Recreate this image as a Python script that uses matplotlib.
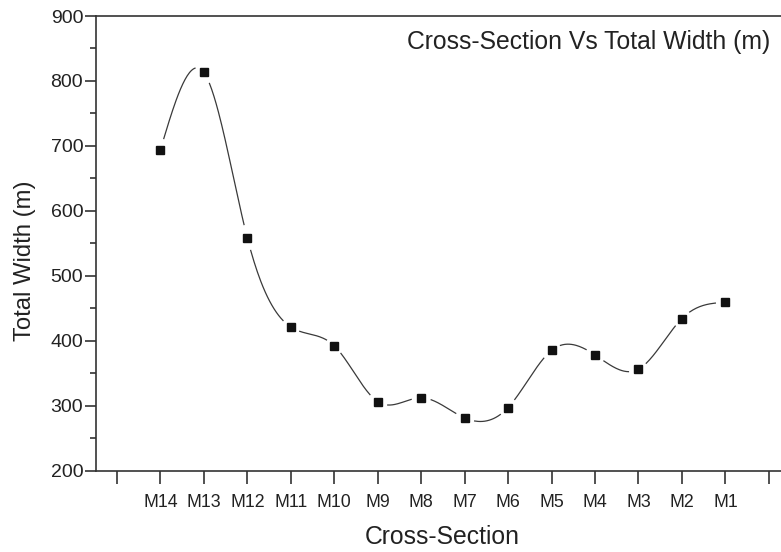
import numpy as np
import matplotlib
matplotlib.use("Agg")
import matplotlib.pyplot as plt
from matplotlib.ticker import MultipleLocator

plt.rcParams['font.family'] = ['Liberation Sans', 'DejaVu Sans']

categories = ["M14", "M13", "M12", "M11", "M10", "M9", "M8", "M7", "M6",
              "M5", "M4", "M3", "M2", "M1"]
total_width = [694, 813, 558, 421, 392, 306, 312, 281, 297, 385, 378, 356, 434, 459]
tick_labels = [""] + categories + [""]
title_text = "Cross-Section Vs Total Width (m)"
x_label = "Cross-Section"
y_label = "Total Width (m)"


def natural_cubic_spline(x, y, n=40):
    x = np.asarray(x, float)
    y = np.asarray(y, float)
    m = len(x)
    h = np.diff(x)
    A = np.zeros((m, m))
    b = np.zeros(m)
    A[0, 0] = 1
    A[-1, -1] = 1
    for i in range(1, m - 1):
        A[i, i - 1] = h[i - 1]
        A[i, i] = 2 * (h[i - 1] + h[i])
        A[i, i + 1] = h[i]
        b[i] = 6 * ((y[i + 1] - y[i]) / h[i] - (y[i] - y[i - 1]) / h[i - 1])
    M = np.linalg.solve(A, b)
    xs, ys = [], []
    for i in range(m - 1):
        t = np.linspace(x[i], x[i + 1], n)
        a = x[i + 1] - t
        c = t - x[i]
        s = (M[i] * a ** 3 + M[i + 1] * c ** 3) / (6 * h[i]) \
            + (y[i] / h[i] - M[i] * h[i] / 6) * a \
            + (y[i + 1] / h[i] - M[i + 1] * h[i] / 6) * c
        xs.append(t)
        ys.append(s)
    return np.concatenate(xs), np.concatenate(ys)


W, H = 781, 552
fig = plt.figure(figsize=(W / 100, H / 100), dpi=100)
ax = fig.add_axes([96 / W, (H - 470.5) / H, (W - 96) / W, 454.5 / H])

xpos = np.arange(1, len(categories) + 1)
sx, sy = natural_cubic_spline(xpos, total_width)

ax.set_xlim(-0.483, 15.28)
ax.set_ylim(200, 900)

# curve with gaps near the symbols (Origin style)
fig.canvas.draw()
pts = ax.transData.transform(np.column_stack([sx, sy]))
mpts = ax.transData.transform(np.column_stack([xpos, total_width]))
mask = np.zeros(len(sx), bool)
for p in mpts:
    mask |= np.hypot(pts[:, 0] - p[0], pts[:, 1] - p[1]) < 9.5
sy_g = np.where(mask, np.nan, sy)
ax.plot(sx, sy_g, color='#3a3a3a', lw=0.9, zorder=2)
ax.plot(xpos, total_width, linestyle='none', marker='s', markersize=5.2,
        color='#111111', zorder=3)

ax.set_xticks(np.arange(0, 16))
ax.set_xticklabels(tick_labels)
ax.yaxis.set_major_locator(MultipleLocator(100))
ax.yaxis.set_minor_locator(MultipleLocator(50))

spine_c = '#333333'
for s in ['left', 'bottom', 'top']:
    ax.spines[s].set_color(spine_c)
    ax.spines[s].set_linewidth(1.2)
ax.spines['right'].set_visible(False)

ax.tick_params(axis='x', which='major', direction='out', length=9.5, width=1.2,
               color=spine_c, pad=7.5, labelsize=12.8, labelcolor='#222222')
ax.tick_params(axis='y', which='major', direction='out', length=7.7, width=1.2,
               color=spine_c, pad=1.5, labelsize=14, labelcolor='#222222')
ax.tick_params(axis='y', which='minor', direction='out', length=4, width=1.2,
               color=spine_c)
ax.tick_params(top=False, right=False, which='both')

ax.text((770 - 96) / (W - 96), (470.5 - 42) / 454.5, title_text,
        transform=ax.transAxes, ha='right', va='center', fontsize=17.8,
        color='#222222')
fig.text(442.5 / W, (H - 537) / H, x_label, ha='center', va='center',
         fontsize=17.8, color='#222222')
fig.text(25 / W, 1 - 261 / H, y_label, ha='center', va='center',
         rotation=90, fontsize=17.2, color='#222222')

fig.savefig("out.png", dpi=100)
